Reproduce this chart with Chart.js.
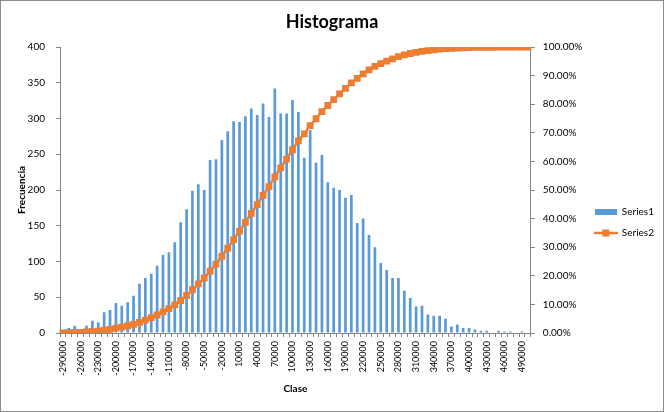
<!DOCTYPE html>
<html><head><meta charset="utf-8">
<script src="https://cdn.jsdelivr.net/npm/chart.js@4/dist/chart.umd.min.js"></script>
<style>html,body{margin:0;padding:0;background:#fff}#wrap{width:664px;height:412px;position:relative}</style>
</head><body><div id="wrap"><canvas id="c" width="664" height="412"></canvas></div>
<script>
const categories = ["-290000","-280000","-270000","-260000","-250000","-240000","-230000","-220000","-210000","-200000","-190000","-180000","-170000","-160000","-150000","-140000","-130000","-120000","-110000","-100000","-90000","-80000","-70000","-60000","-50000","-40000","-30000","-20000","-10000","0","10000","20000","30000","40000","50000","60000","70000","80000","90000","100000","110000","120000","130000","140000","150000","160000","170000","180000","190000","200000","210000","220000","230000","240000","250000","260000","270000","280000","290000","300000","310000","320000","330000","340000","350000","360000","370000","380000","390000","400000","410000","420000","430000","440000","450000","460000","470000","480000","490000","y mayor..."];
const frequencies = [3,7,10,5,10,17,15,29,32,42,38,43,
  52,69,77,83,94,109,113,127,155,173,199,208,200,242,243,270,
  282,296,295,303,314,305,321,302,342,307,307,326,309,245,284,238,249,211,203,200,189,193,154,160,137,120,98,88,
  77,77,59,49,37,38,26,24,24,20,9,12,7,7,5,3,3,0,3,2,2,0,2,0];
const cumulativePct = [0.03,0.10,0.20,0.25,0.35,0.52,0.67,0.97,1.29,1.71,2.09,2.53,
  3.05,3.74,4.52,5.36,6.30,7.40,8.54,9.81,11.37,13.12,15.12,17.21,19.23,21.66,24.11,26.82,
  29.66,32.64,35.61,38.66,41.82,44.89,48.12,51.16,54.61,57.70,60.80,64.08,67.19,69.65,72.51,74.91,77.42,79.55,81.59,83.61,85.51,87.46,89.01,90.62,92.00,93.21,94.20,95.09,
  95.86,96.64,97.24,97.73,98.11,98.49,98.75,99.00,99.24,99.44,99.53,99.65,99.72,99.79,99.84,99.87,99.90,99.90,99.93,99.95,99.97,99.97,100.00,100.00];
const seriesNames = ["Series1","Series2"];
const BLUE = '#5B9BD5', ORANGE = '#ED7D31', AXIS = '#868686', TXT = '#000000';
const FONT = 'Lato';

function makeBarSwatch(){
  const c = document.createElement('canvas'); c.width = 22; c.height = 6;
  const g = c.getContext('2d'); g.fillStyle = BLUE; g.fillRect(0,0,22,6); return c;
}
function makeLineSwatch(){
  const c = document.createElement('canvas'); c.width = 24; c.height = 8;
  const g = c.getContext('2d'); g.strokeStyle = ORANGE; g.lineWidth = 2.5;
  g.beginPath(); g.moveTo(0,4); g.lineTo(24,4); g.stroke();
  g.fillStyle = ORANGE; g.fillRect(8.5,0.5,7,7); return c;
}
const swatches = [makeBarSwatch(), makeLineSwatch()];

const borderPlugin = {
  id: 'outerBorder',
  afterDraw(chart){
    const ctx = chart.ctx; ctx.save(); ctx.strokeStyle = '#8c8c8c'; ctx.lineWidth = 1;
    ctx.strokeRect(0.5, 0.5, chart.width - 1, chart.height - 1); ctx.restore();
  }
};

new Chart(document.getElementById('c'), {
  type: 'bar',
  data: {
    labels: categories,
    datasets: [
      { type: 'bar', label: seriesNames[0], data: frequencies, backgroundColor: BLUE, yAxisID: 'y', order: 1,
        barPercentage: 0.46, categoryPercentage: 1 },
      { type: 'line', label: seriesNames[1], data: cumulativePct, borderColor: ORANGE, backgroundColor: ORANGE,
        borderWidth: 2.5, pointStyle: 'rect', pointRadius: 4.8, pointBorderWidth: 0, yAxisID: 'y1', order: 0, tension: 0 }
    ]
  },
  options: {
    responsive: false, animation: false, devicePixelRatio: 1,
    layout: { padding: { left: 0, right: 0, top: 0, bottom: 0 } },
    plugins: {
      tooltip: { enabled: false },
      title: { display: true, text: 'Histograma', color: TXT, font: { family: FONT, size: 18, weight: 'bold' }, padding: { top: 11, bottom: 14.4 } },
      legend: {
        position: 'right', align: 'center',
        title: { display: true, text: ' ', font: { family: FONT, size: 10 }, padding: { top: 0, bottom: 21 } },
        labels: {
          usePointStyle: true, pointStyleWidth: 22, padding: 11, color: TXT,
          font: { family: FONT, size: 10 },
          generateLabels(chart){
            const items = Chart.defaults.plugins.legend.labels.generateLabels(chart);
            items.forEach(it => { it.pointStyle = swatches[it.datasetIndex]; });
            items.sort((a,b) => a.datasetIndex - b.datasetIndex);
            return items;
          }
        }
      }
    },
    scales: {
      x: {
        grid: { offset: true, drawOnChartArea: false, drawTicks: true, tickLength: 4, color: AXIS },
        border: { color: AXIS, width: 1 },
        ticks: { autoSkip: false, maxRotation: 90, minRotation: 90, padding: 4, color: TXT, font: { family: FONT, size: 9 },
          callback: (v, i) => (i % 3 === 0 ? categories[i] : '') },
        title: { display: true, text: 'Clase', color: TXT, font: { family: FONT, size: 10, weight: 'bold' }, padding: { top: 0, bottom: 17 } },
        afterFit: s => { s.height = 79; }
      },
      y: {
        position: 'left', min: 0, max: 400,
        grid: { drawOnChartArea: false, drawTicks: true, tickLength: 4, color: AXIS },
        border: { color: AXIS, width: 1 },
        ticks: { stepSize: 50, padding: 11, color: TXT, font: { family: FONT, size: 10 } },
        title: { display: true, text: 'Frecuencia', color: TXT, font: { family: FONT, size: 10, weight: 'bold' }, padding: { top: 15.5, bottom: 0 } },
        afterFit: s => { s.width = 60; }
      },
      y1: {
        position: 'right', min: 0, max: 100,
        grid: { drawOnChartArea: false, drawTicks: true, tickLength: 4, color: AXIS },
        border: { color: AXIS, width: 1 },
        ticks: { stepSize: 10, padding: 8, color: TXT, font: { family: FONT, size: 10 }, callback: v => Number(v).toFixed(2) + '%' },
        afterFit: s => { s.width = 53; }
      }
    }
  },
  plugins: [borderPlugin]
});
</script></body></html>
